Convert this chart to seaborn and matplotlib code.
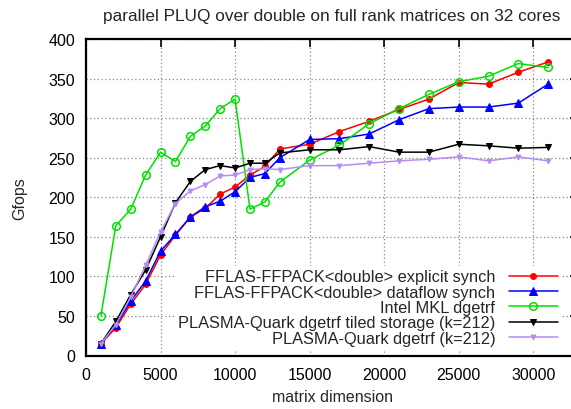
import matplotlib
matplotlib.use("Agg")
import matplotlib.pyplot as plt
import seaborn as sns
import pandas as pd

sizes = [1000, 2000, 3000, 4000, 5000, 6000, 7000, 8000, 9000, 10000, 11000, 12000, 13000,
         15000, 17000, 19000, 21000, 23000, 25000, 27000, 29000, 31000]
explicit = [15, 35, 65, 90, 127, 152, 175, 186, 204, 213, 228, 239, 261,
            267, 283, 296, 311, 324, 345, 343, 358, 371]
dataflow = [15, 38, 69, 94, 132, 153, 175, 188, 195, 207, 225, 230, 250,
            273, 274, 280, 298, 312, 314, 314, 319, 343]
mkl = [50, 164, 185, 228, 257, 245, 277, 290, 312, 324, 185, 194, 219,
       247, 266, 293, 312, 330, 346, 353, 369, 364]
plasma_tiled = [15, 43, 77, 108, 150, 193, 220, 235, 240, 237, 243, 243, 256,
                260, 260, 264, 257, 257, 267, 265, 262, 263]
plasma = [15, 39, 74, 114, 156, 192, 208, 216, 227, 228, 235, 236, 235,
          240, 240, 243, 246, 248, 251, 246, 251, 246]

labels = ["FFLAS-FFPACK<double> explicit synch",
          "FFLAS-FFPACK<double> dataflow synch",
          "Intel MKL dgetrf",
          "PLASMA-Quark dgetrf tiled storage (k=212)",
          "PLASMA-Quark dgetrf (k=212)"]
title = "parallel PLUQ over double on full rank matrices on 32 cores"
xlabel = "matrix dimension"
ylabel = "Gfops"

sns.set_style("white")
plt.rcParams['font.family'] = ['Liberation Sans', 'DejaVu Sans']

fig = plt.figure(figsize=(5.71, 4.10), dpi=100)
W, H = 571, 410
left, right, top, bottom = 86, 578, 40, 356.5
ax = fig.add_axes([left / W, 1 - bottom / H, (right - left) / W, (bottom - top) / H])

series = [explicit, dataflow, mkl, plasma_tiled, plasma]
styles = [
    dict(color="#ff0000", marker="o", markersize=4.2, markerfacecolor="#ff0000", markeredgecolor="#ff0000"),
    dict(color="#0000ff", marker="^", markersize=5.5, markerfacecolor="#0000ff", markeredgecolor="#0000ff"),
    dict(color="#00e000", marker="o", markersize=5.5, markerfacecolor="none", markeredgecolor="#00e000", markeredgewidth=1.1),
    dict(color="#000000", marker="v", markersize=5, markerfacecolor="#000000", markeredgecolor="#000000"),
    dict(color="#b48cf5", marker="v", markersize=3.5, markerfacecolor="#b48cf5", markeredgecolor="#b48cf5"),
]
for vals, lab, st in zip(series, labels, styles):
    df = pd.DataFrame({"size": sizes, "gflops": vals})
    sns.lineplot(data=df, x="size", y="gflops", ax=ax, label=lab, linewidth=1.1, **st)

ax.set_xlim(0, 33000)
ax.set_ylim(0, 400)
ax.set_xticks([0, 5000, 10000, 15000, 20000, 25000, 30000])
ax.set_yticks(range(0, 401, 50))
ax.grid(True, linestyle=(0, (1, 2)), color="#888888", linewidth=0.9)
for s in ax.spines.values():
    s.set_linewidth(1.6)
    s.set_color("black")
ax.tick_params(direction="in", length=6, width=1.2, top=True, right=True,
               labelsize=11.5, pad=8, colors="black")
ax.set_xlabel(xlabel, fontsize=11.5, labelpad=5)
ax.set_ylabel(ylabel, fontsize=11.5, labelpad=15)
ax.set_title(title, fontsize=12.4, pad=14)

leg = ax.legend(loc="lower right", bbox_to_anchor=(561 / W, 1 - 350 / H),
                bbox_transform=fig.transFigure, markerfirst=False,
                fontsize=11.8, frameon=True, framealpha=1, facecolor="white",
                edgecolor="none", fancybox=False, handlelength=3.0,
                handletextpad=0.8, labelspacing=0.02, borderpad=0.2,
                borderaxespad=0)
for t in leg.get_texts():
    t.set_ha("right")
leg._legend_box.align = "right"

fig.savefig("out.png", dpi=100)
